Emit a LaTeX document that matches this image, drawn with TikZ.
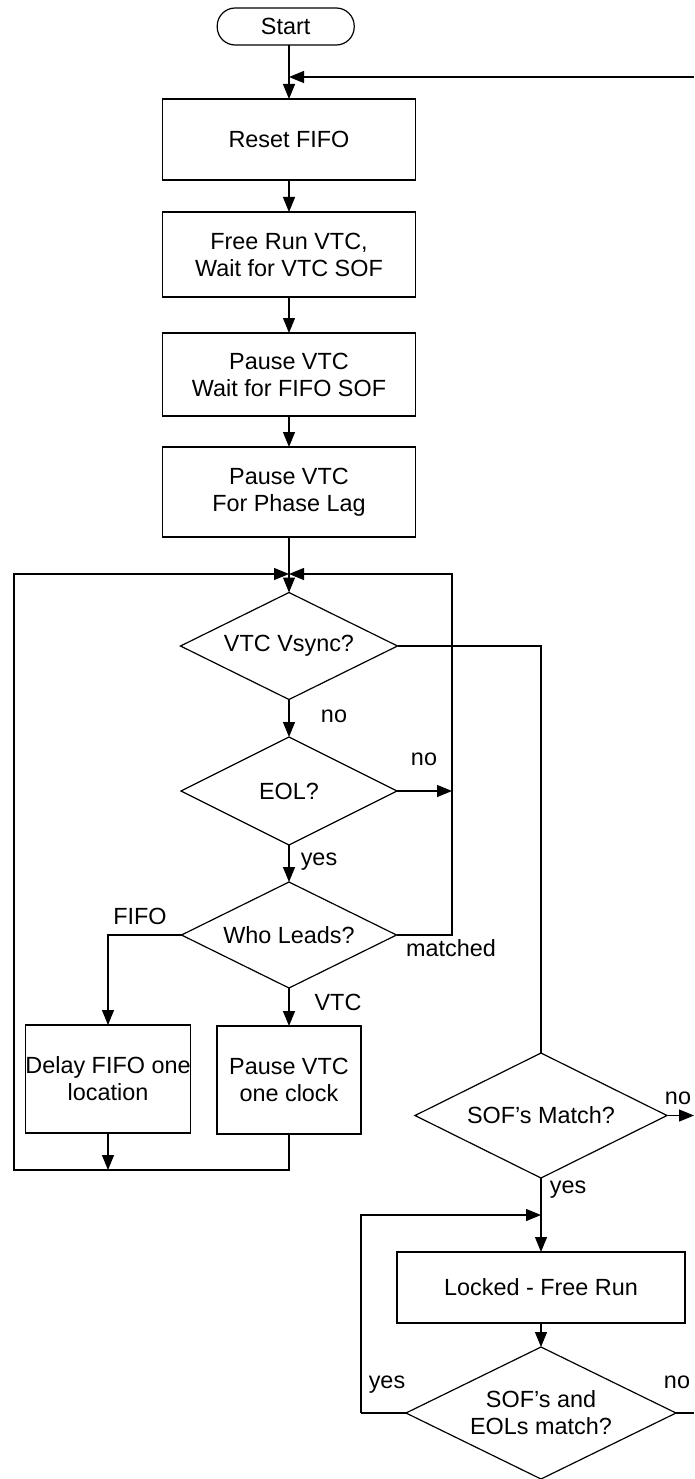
\documentclass[tikz,border=0pt]{standalone}
\usepackage{fontspec}
\setmainfont{Liberation Sans}
\usetikzlibrary{shapes.geometric,arrows.meta}
\newcommand\flowfont{\fontsize{23.4}{27}\selectfont}
\tikzset{
  base/.style={draw, line width=1.2pt, inner sep=0pt, outer sep=0pt, align=center, font=\flowfont},
  proc/.style={base, rectangle},
  term/.style={base, rectangle, rounded corners=18pt},
  dec/.style={base, diamond},
  txt/.style={inner sep=0pt, align=center, font=\flowfont},
  arr/.style={-{Triangle[length=15pt,width=12pt]}},
  lbl/.style={font=\flowfont, inner sep=0pt, anchor=base}
}
\begin{document}
\begin{tikzpicture}[x=1pt, y=-1pt, line width=1.2pt]
\useasboundingbox (0,0) rectangle (694,1479);
% nodes
\node[term, minimum width=137, minimum height=37] (start) at (285.7,26.5) {Start};
\node[proc, minimum width=253, minimum height=81] (reset) at (289,139.5) {Reset FIFO};
\node[proc, minimum width=253, minimum height=85] (freerun) at (289,254.5) {Free Run VTC,\\Wait for VTC SOF};
\node[proc, minimum width=253, minimum height=83] (pausefifo) at (289,374.5) {Pause VTC\\Wait for FIFO SOF};
\node[proc, minimum width=253, minimum height=90] (phase) at (289,492) {Pause VTC\\For Phase Lag};
\node[dec, minimum width=217, minimum height=107] (vsync) at (289,646) {};
\node[txt] (vsynct) at (vsync.center) {VTC Vsync?};
\node[dec, minimum width=216, minimum height=108] (eol) at (289,791) {};
\node[txt] (eolt) at (eol.center) {EOL?};
\node[dec, minimum width=215, minimum height=106] (who) at (289,935) {};
\node[txt] (whot) at (who.center) {Who Leads?};
\node[proc, minimum width=162, minimum height=108] (delay) at (108,1079) {Delay FIFO one\\location};
\node[proc, minimum width=144, minimum height=108] (pausevtc) at (289,1080) {Pause VTC\\one clock};
\node[dec, minimum width=252, minimum height=125] (sofm) at (541,1115.5) {};
\node[txt] (sofmt) at (sofm.center) {SOF’s Match?};
\node[proc, minimum width=288, minimum height=71] (locked) at (541,1287.5) {Locked - Free Run};
\node[dec, minimum width=270, minimum height=132] (sofe) at (541,1413) {};
\node[txt] (sofet) at (sofe.center) {SOF’s and\\EOLs match?};
% coordinates
\coordinate (rin) at (694,77);
\coordinate (lt) at (289,574);
\coordinate (bl) at (289,1170);
\coordinate (lbot) at (14,1170);
\coordinate (ltop) at (14,574);
\coordinate (rloop) at (452,574);
\coordinate (rloopb) at (452,935);
\coordinate (delb) at (108,1170);
\coordinate (vsr) at (541,646);
\coordinate (sofmout) at (694,1115.5);
\coordinate (lockin) at (541,1215);
\coordinate (yl) at (361,1413);
\coordinate (yt) at (361,1215);
\coordinate (sofeout) at (694,1413);
% connectors
\draw[arr] (start.south -| reset.north) -- (reset.north);
\draw[arr] (rin) -- (rin -| reset.north);
\draw[arr] (reset) -- (freerun);
\draw[arr] (freerun) -- (pausefifo);
\draw[arr] (pausefifo) -- (phase);
\draw[arr] (phase) -- (vsync);
\draw[arr] (pausevtc.south) -- (bl) -- (lbot) -- (ltop) -- (lt);
\draw[arr] (who.east) -- (rloopb) -- (rloop) -- (lt);
\draw[arr] (vsync) -- (eol);
\draw[arr] (eol.east) -- (eol.east -| rloop);
\draw[arr] (eol) -- (who);
\draw[arr] (who.west) -| (delay.north);
\draw[arr] (who) -- (pausevtc);
\draw[arr] (delay.south) -- (delb);
\draw (vsync.east) -- (vsr) -- (sofm.north);
\draw[arr] (sofm.east) -- (sofmout);
\draw[arr] (sofm) -- (locked);
\draw[arr] (yl) -- (yt) -- (lockin);
\draw (sofe.west) -- (yl);
\draw[arr] (locked) -- (sofe);
\draw (sofe.east) -- (sofeout);
% labels
\node[lbl] (l1) at (334,722) {no};
\node[lbl] (l2) at (424,765) {no};
\node[lbl] (l3) at (319,865) {yes};
\node[lbl] (l4) at (140,924) {FIFO};
\node[lbl] (l5) at (451,956) {matched};
\node[lbl] (l6) at (338,1010) {VTC};
\node[lbl] (l7) at (678,1104) {no};
\node[lbl] (l8) at (568,1193) {yes};
\node[lbl] (l9) at (387,1388) {yes};
\node[lbl] (l10) at (677,1388) {no};
\end{tikzpicture}
\end{document}
